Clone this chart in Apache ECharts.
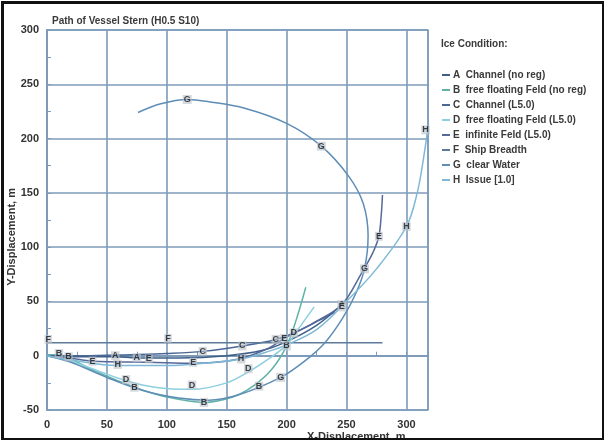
<!DOCTYPE html>
<html>
<head>
<meta charset="utf-8">
<script src="https://cdn.jsdelivr.net/npm/echarts@6/dist/echarts.min.js"></script>
<style>
  html, body { margin: 0; padding: 0; background: #ffffff; }
  #chart { width: 604px; height: 440px; }
</style>
</head>
<body>
<div id="chart"></div>
<script>
// Stern track of the vessel for each ice condition (x, y in metres)
const seriesNames = [
  'A  Channel (no reg)',
  'B  free floating Feld (no reg)',
  'C  Channel (L5.0)',
  'D  free floating Feld (L5.0)',
  'E  infinite Feld (L5.0)',
  'F  Ship Breadth',
  'G  clear Water',
  'H  Issue [1.0]'
];
const letters = ['A', 'B', 'C', 'D', 'E', 'F', 'G', 'H'];
const colors = ['#3f5f88', '#5fb3a6', '#4a6796', '#8ccfe0', '#56699a', '#5d7b99', '#5e8db6', '#7db9d6'];

const pathA = [[0,0],[20,-1],[57,-1],[75,-2],[110,-2],[150,0],[180,5],[200,13],[225,28],[246,47]];
const pathB = [[0,1],[10,1],[18,-2],[40,-14],[73,-29],[100,-38],[131,-43],[155,-38],[172,-28],[188,-12],[200,9],[208,33],[216,63]];
const pathC = [[0,0],[30,0],[70,1],[100,2],[130,4],[163,9],[191,15],[210,23],[228,33],[240,40]];
const pathD = [[0,0],[20,-5],[45,-15],[66,-23],[90,-29],[121,-31],[150,-25],[168,-15],[185,-3],[200,10],[210,25],[223,45]];
const pathE = [[0,0],[18,-2],[38,-5],[85,-6],[122,-7],[160,-3],[185,7],[198,16],[222,30],[246,47],[262,75],[272,95],[277,110],[279,130],[280,148]];
const pathF = [[0,12],[280,12]];
const pathG = [[0,0],[20,-6],[50,-20],[80,-32],[110,-39],[135,-41],[160,-36],[195,-20],[215,-5],[232,12],[247,35],[258,58],[265,80],[268,110],[264,140],[252,165],[229,193],[200,214],[165,228],[135,234],[117,236],[95,232],[76,224]];
const pathH = [[0,0],[20,-4],[59,-9],[100,-9],[140,-6],[162,-3],[185,4],[200,10],[225,24],[250,50],[275,80],[300,119],[309,150],[314,180],[318,210]];

// Letter markers placed along each track
const marksA = [[57,0],[75,-2],[246,47]];
const marksB = [[10,2],[18,-1],[73,-29],[131,-43],[177,-28],[200,9]];
const marksC = [[130,4],[163,9],[191,15]];
const marksD = [[66,-22],[121,-27],[168,-12],[206,21]];
const marksE = [[38,-5],[85,-3],[122,-6],[198,16],[246,45],[277,110]];
const marksF = [[1,15],[101,16]];
const marksG = [[195,-20],[265,80],[229,193],[117,236]];
const marksH = [[59,-8],[162,-3],[300,119],[316,208]];

const xTicks = { min: 0, max: 318, interval: 50 };
const yTicks = { min: -50, max: 300, interval: 50 };

const paths = [pathA, pathB, pathC, pathD, pathE, pathF, pathG, pathH];
const marks = [marksA, marksB, marksC, marksD, marksE, marksF, marksG, marksH];

const FONT = '"Liberation Sans", Arial, sans-serif';
const GRID = '#7d9bb8';

const series = [];
paths.forEach((p, i) => {
  series.push({
    name: seriesNames[i],
    type: 'line',
    data: p,
    smooth: i === 5 ? false : 0.35,
    showSymbol: false,
    symbol: 'none',
    lineStyle: { color: colors[i], width: 1.5 },
    itemStyle: { color: colors[i] },
    z: 2
  });
});
marks.forEach((m, i) => {
  series.push({
    name: 'mark-' + letters[i],
    type: 'scatter',
    data: m,
    symbolSize: 1,
    itemStyle: { color: 'rgba(0,0,0,0)' },
    label: {
      show: true,
      position: 'inside',
      formatter: letters[i],
      fontFamily: FONT,
      fontSize: 9,
      fontWeight: 'bold',
      color: '#111820',
      backgroundColor: 'rgba(190,196,202,0.8)',
      padding: [0, 1, 0, 1]
    },
    z: 5,
    silent: true
  });
});

const chart = echarts.init(document.getElementById('chart'), null, { renderer: 'canvas' });
chart.setOption({
  backgroundColor: '#ffffff',
  animation: false,
  title: [{
    text: 'Path of Vessel Stern (H0.5 S10)',
    left: 47, top: 11,
    textStyle: { fontFamily: FONT, fontSize: 10, fontWeight: 'bold', color: '#3a3a3a' }
  }, {
    text: 'Ice Condition:',
    left: 436, top: 34,
    textStyle: { fontFamily: FONT, fontSize: 10, fontWeight: 'bold', color: '#3a3a3a' }
  }],
  legend: {
    data: seriesNames,
    orient: 'vertical',
    left: 437, top: 64,
    itemWidth: 8, itemHeight: 2,
    itemGap: 3,
    icon: 'rect',
    textStyle: { fontFamily: FONT, fontSize: 10, fontWeight: 'bold', color: '#3a3a3a', lineHeight: 12, padding: [0, 0, 0, -2] }
  },
  grid: {
    left: 47, top: 30, right: 176, bottom: 30,
    show: true, borderColor: GRID, borderWidth: 1.5, backgroundColor: '#ffffff'
  },
  xAxis: {
    type: 'value',
    min: xTicks.min, max: xTicks.max, interval: xTicks.interval,
    axisLine: { show: true, lineStyle: { color: GRID, width: 2 } },
    axisTick: { show: true, inside: true, length: 4, lineStyle: { color: GRID } },
    minorTick: { show: true, splitNumber: 2, length: 4, lineStyle: { color: GRID } },
    axisLabel: { fontFamily: FONT, fontSize: 11, fontWeight: 'bold', color: '#333', margin: 9,
      showMaxLabel: false },
    splitLine: { show: true, lineStyle: { color: GRID, width: 1.6 } }
  },
  yAxis: {
    type: 'value',
    min: yTicks.min, max: yTicks.max, interval: yTicks.interval,
    axisLine: { show: true, lineStyle: { color: GRID, width: 2 } },
    axisTick: { show: true, inside: true, length: 4, lineStyle: { color: GRID } },
    minorTick: { show: true, splitNumber: 2, length: 4, lineStyle: { color: GRID } },
    axisLabel: { fontFamily: FONT, fontSize: 11, fontWeight: 'bold', color: '#333', margin: 8 },
    splitLine: { show: true, lineStyle: { color: GRID, width: 1.6 } }
  },
  graphic: [{
    type: 'text',
    left: 6, top: 188,
    rotation: Math.PI / 2,
    style: { text: 'Y-Displacement, m', fontFamily: FONT, fontSize: 11, fontWeight: 'bold', fill: '#333' },
    z: 10
  }, {
    type: 'text',
    left: 307, top: 431,
    style: { text: 'X-Displacement, m', fontFamily: FONT, fontSize: 11, fontWeight: 'bold', fill: '#333' },
    z: 10
  }, {
    type: 'rect',
    left: 0, top: 0,
    shape: { x: 1, y: 1, width: 601, height: 437 },
    style: { fill: 'none', stroke: '#111', lineWidth: 3 },
    silent: true,
    z: 20
  }],
  series: series
});
</script>
</body>
</html>
